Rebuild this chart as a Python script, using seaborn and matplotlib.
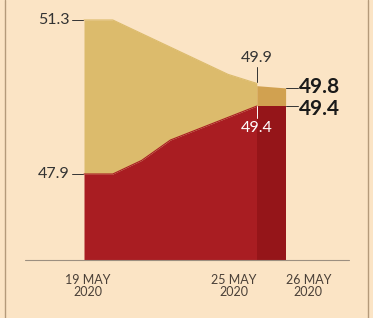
import matplotlib
matplotlib.use("Agg")
import matplotlib.pyplot as plt
import seaborn as sns
import pandas as pd

sns.set_style("white")
plt.rcParams["font.family"] = ["Lato", "DejaVu Sans"]

# daily values, 19 May .. 25 May 2020
days = [0, 1, 2, 3, 4, 5, 6]
upper = [51.3, 51.3, 51.0, 50.7, 50.4, 50.1, 49.9]
lower = [47.9, 47.9, 48.2, 48.65, 48.9, 49.15, 49.4]
# latest day, 26 May 2020
last_day = [6, 7]
last_upper = [49.85, 49.8]
last_lower = [49.4, 49.4]
tick_pos = [0, 6, 7]
tick_labels = ["19 MAY\n2020", "25 MAY\n2020", "26 MAY\n2020"]

base = 46.0
bg = "#fbe4c5"
tan = "#dcbb6c"
tan_dark = "#d1a150"
red = "#a91d22"
red_dark = "#951519"
ink = "#333333"

df = pd.DataFrame({"day": days, "upper": upper, "lower": lower})

fig = plt.figure(figsize=(3.73, 3.18), dpi=100)
fig.patch.set_facecolor(bg)
ax = fig.add_axes([0, 0, 1, 1])
ax.set_facecolor(bg)

ax.fill_between(df["day"], df["lower"], df["upper"], color=tan, lw=0)
ax.fill_between(df["day"], base, df["lower"], color=red, lw=0)
ax.fill_between(last_day, last_lower, last_upper, color=tan_dark, lw=0)
ax.fill_between(last_day, base, last_lower, color=red_dark, lw=0)
sns.lineplot(data=df, x="day", y="upper", color=tan, lw=0.8, ax=ax)
sns.lineplot(data=df, x="day", y="lower", color=red, lw=0.8, ax=ax)

# baseline
ax.plot([-2.05, 9.2], [base, base], color="#9c8f80", lw=0.8)

# value labels with leaders
ax.plot([-0.42, -0.05], [upper[0], upper[0]], color=ink, lw=0.7)
ax.text(-0.5, upper[0], f"{upper[0]}", ha="right", va="center", fontsize=11.5, color=ink)
ax.plot([-0.42, -0.05], [lower[0], lower[0]], color=ink, lw=0.7)
ax.text(-0.5, lower[0], f"{lower[0]}", ha="right", va="center", fontsize=11.5, color=ink)

ax.plot([6, 6], [upper[6] + 0.02, upper[6] + 0.37], color=ink, lw=0.7)
ax.text(6, upper[6] + 0.4, f"{upper[6]}", ha="center", va="bottom", fontsize=11.5, color=ink)
ax.plot([6, 6], [lower[6], lower[6] - 0.27], color="white", lw=0.7)
ax.text(6, lower[6] - 0.33, f"{lower[6]}", ha="center", va="top", fontsize=11.5, color="white")

ax.plot([7.02, 7.42], [last_upper[1], last_upper[1]], color=ink, lw=0.7)
ax.text(7.45, last_upper[1] + 0.02, f"{last_upper[1]}", ha="left", va="center",
        fontsize=15, fontweight="bold", color="#1a1a1a")
ax.plot([7.02, 7.42], [last_lower[1], last_lower[1]], color=ink, lw=0.7)
ax.text(7.45, last_lower[1] - 0.06, f"{last_lower[1]}", ha="left", va="center",
        fontsize=15, fontweight="bold", color="#1a1a1a")

# x labels
aligns = ["center", "right", "left"]
offsets = [0.12, 0.0, 0.0]
for p, lab, a, o in zip(tick_pos, tick_labels, aligns, offsets):
    ax.text(p + o, base - 0.3, lab, ha=a, va="top", fontsize=9,
            color="#4a4038", linespacing=1.05, multialignment="center")

ax.set_xlim(-84 / 28.8, (373 - 84) / 28.8)
ax.set_ylim(47.9 - 144 / 45.3, 47.9 + 174 / 45.3)
ax.axis("off")

# frame lines
for xf in [5 / 373, 368 / 373]:
    fig.add_artist(plt.Line2D([xf, xf], [0, 1], color="#b49a7a", lw=1))

fig.savefig("out.png", dpi=100, facecolor=bg)
